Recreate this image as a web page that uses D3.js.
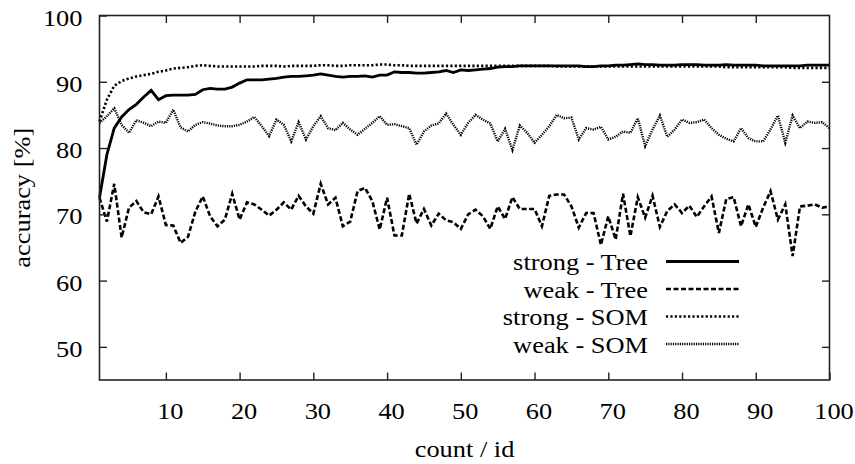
<!DOCTYPE html>
<html>
<head>
<meta charset="utf-8">
<script src="https://cdn.jsdelivr.net/npm/d3@7"></script>
<style>
  body { margin: 0; background: #fff; }
  svg text { font-family: "Liberation Serif", "Times New Roman", serif; fill: #000; }
</style>
</head>
<body>
<svg id="chart"></svg>
<script>
/* values, one per count/id (1..100) */
const ids = d3.range(1, 101);

const strongTree = [
  72.5, 79.0, 83.0, 84.7, 85.8, 86.6, 87.7, 88.7, 87.3, 87.9,
  88.0, 88.0, 88.0, 88.1, 88.8, 89.0, 88.9, 88.9, 89.2, 89.8,
  90.3, 90.3, 90.3, 90.4, 90.5, 90.7, 90.8, 90.8, 90.9, 91.0,
  91.2, 91.0, 90.8, 90.7, 90.8, 90.8, 90.9, 90.7, 91.0, 91.0,
  91.5, 91.4, 91.4, 91.3, 91.3, 91.4, 91.5, 91.7, 91.4, 91.8,
  91.7, 91.8, 91.9, 92.0, 92.2, 92.3, 92.3, 92.4, 92.4, 92.4,
  92.4, 92.4, 92.4, 92.4, 92.4, 92.4, 92.3, 92.3, 92.4, 92.4,
  92.5, 92.5, 92.6, 92.7, 92.6, 92.6, 92.5, 92.5, 92.5, 92.6,
  92.6, 92.6, 92.5, 92.5, 92.5, 92.6, 92.5, 92.5, 92.5, 92.5,
  92.4, 92.4, 92.4, 92.4, 92.4, 92.4, 92.5, 92.5, 92.5, 92.5
];

const weakTree = [
  72.5, 68.9, 74.6, 66.5, 71.0, 72.0, 70.3, 70.0, 72.7, 68.4,
  68.3, 65.7, 66.6, 70.4, 72.7, 69.7, 68.2, 69.2, 73.1, 69.2,
  71.8, 71.5, 70.7, 69.8, 70.7, 71.8, 70.7, 72.8, 71.2, 70.1,
  74.6, 71.5, 72.5, 68.2, 68.9, 73.5, 74.0, 72.0, 67.7, 72.5,
  66.8, 66.8, 73.1, 68.6, 70.8, 68.3, 70.1, 69.1, 68.8, 67.8,
  70.0, 70.7, 69.7, 67.8, 71.2, 69.3, 72.6, 70.8, 70.8, 70.8,
  68.2, 72.8, 73.0, 73.0, 71.2, 68.0, 70.2, 70.2, 65.4, 69.7,
  66.2, 73.1, 66.7, 72.6, 69.5, 72.8, 68.1, 70.5, 71.5, 70.2,
  71.3, 69.6, 71.2, 72.7, 67.2, 72.3, 72.6, 68.2, 71.5, 68.1,
  71.0, 73.5, 69.2, 71.5, 63.7, 71.2, 71.3, 71.5, 71.0, 71.2
];

const strongSOM = [
  84.0, 87.3, 89.4, 90.1, 90.5, 90.8, 91.0, 91.2, 91.5, 91.7,
  92.0, 92.1, 92.2, 92.4, 92.5, 92.4, 92.3, 92.3, 92.3, 92.3,
  92.3, 92.3, 92.4, 92.4, 92.4, 92.3, 92.4, 92.4, 92.4, 92.4,
  92.5, 92.5, 92.4, 92.4, 92.5, 92.5, 92.5, 92.5, 92.6, 92.6,
  92.5, 92.5, 92.4, 92.4, 92.4, 92.4, 92.4, 92.4, 92.4, 92.4,
  92.4, 92.4, 92.4, 92.4, 92.4, 92.4, 92.4, 92.4, 92.4, 92.4,
  92.4, 92.4, 92.3, 92.3, 92.3, 92.3, 92.3, 92.3, 92.3, 92.3,
  92.3, 92.3, 92.3, 92.3, 92.3, 92.3, 92.3, 92.3, 92.3, 92.3,
  92.3, 92.3, 92.3, 92.3, 92.3, 92.2, 92.2, 92.2, 92.2, 92.2,
  92.2, 92.2, 92.2, 92.2, 92.1, 92.1, 92.1, 92.1, 92.1, 92.1
];

const weakSOM = [
  83.8, 84.8, 86.0, 83.5, 82.3, 84.2, 83.8, 83.3, 84.0, 83.8,
  85.8, 83.1, 82.5, 83.5, 83.9, 83.7, 83.4, 83.3, 83.3, 83.5,
  84.0, 84.7, 83.3, 81.8, 84.3, 83.5, 81.0, 83.9, 81.3, 83.3,
  84.8, 83.0, 82.7, 83.8, 82.8, 82.0, 82.9, 83.8, 84.8, 83.5,
  83.6, 83.3, 83.0, 80.5, 82.5, 83.4, 83.7, 85.2, 83.5, 82.0,
  83.8, 85.0, 84.3, 83.7, 81.0, 82.9, 79.7, 83.4, 82.3, 80.8,
  82.0, 83.3, 85.0, 84.5, 84.6, 81.3, 83.0, 82.8, 83.2, 81.3,
  81.7, 82.5, 82.3, 84.5, 80.3, 82.8, 84.9, 81.7, 82.8, 84.3,
  83.8, 83.9, 84.3, 83.0, 82.0, 81.4, 81.0, 83.0, 81.5, 81.0,
  81.0, 82.8, 84.9, 80.8, 84.9, 83.0, 84.0, 83.8, 83.9, 83.0
];

const seriesNames = ["strong - Tree", "weak - Tree", "strong - SOM", "weak - SOM"];
const xTicks = [10, 20, 30, 40, 50, 60, 70, 80, 90, 100];
const yTicks = [50, 60, 70, 80, 90, 100];

/* canvas */
const width = 855, height = 464;
const margin = {left: 99.5, right: 25.5, top: 15.5, bottom: 84};
const fontSize = 24;
const stretch = 1.1; /* the reference font is rendered a bit wider than plain Times */

const svg = d3.select("#chart")
    .attr("width", width)
    .attr("height", height);

const x = d3.scaleLinear().domain([1, 100]).range([margin.left, width - margin.right]);
const y = d3.scaleLinear().domain([45, 100]).range([height - margin.bottom, margin.top]);

/* line styles like the gnuplot terminal */
const styles = [
    {data: strongTree, width: 2.8, dash: null},
    {data: weakTree, width: 2.6, dash: "5,2.5"},
    {data: strongSOM, width: 2.6, dash: "2.2,2.2"},
    {data: weakSOM, width: 2.4, dash: "1.2,1.1"}
];

const line = d3.line()
    .x((d, i) => x(ids[i]))
    .y(d => y(d));

const plot = svg.append("g").attr("id", "lines");
styles.slice().reverse().forEach(s => {
    plot.append("path")
        .datum(s.data)
        .attr("d", line)
        .attr("fill", "none")
        .attr("stroke", "#000")
        .attr("stroke-width", s.width)
        .attr("stroke-linejoin", "miter")
        .attr("stroke-dasharray", s.dash);
});

/* axes: ticks point inwards and are mirrored on the top and right side */
const tickLen = 7.5;
const bottomAxis = svg.append("g")
    .attr("transform", "translate(0," + y.range()[0] + ")")
    .call(d3.axisBottom(x).tickValues(xTicks).tickSize(-tickLen).tickPadding(0));
const topAxis = svg.append("g")
    .attr("transform", "translate(0," + y.range()[1] + ")")
    .call(d3.axisTop(x).tickValues(xTicks.slice(0, -1)).tickSize(-tickLen).tickFormat(""));
const leftAxis = svg.append("g")
    .attr("transform", "translate(" + x.range()[0] + ",0)")
    .call(d3.axisLeft(y).tickValues(yTicks).tickSize(-tickLen).tickPadding(0));
const rightAxis = svg.append("g")
    .attr("transform", "translate(" + x.range()[1] + ",0)")
    .call(d3.axisRight(y).tickValues(yTicks.slice(0, -1)).tickSize(-tickLen).tickFormat(""));

[bottomAxis, topAxis, leftAxis, rightAxis].forEach(a => {
    a.select(".domain").remove();
    a.selectAll("line").attr("stroke", "#222").attr("stroke-width", 1.4);
});

bottomAxis.selectAll("text")
    .attr("font-size", fontSize)
    .attr("y", 0)
    .attr("dy", 0)
    .attr("x", 4 / stretch)
    .attr("transform", "translate(0,38.5) scale(" + stretch + ",1)");

leftAxis.selectAll("text")
    .attr("font-size", fontSize)
    .attr("x", -17 / stretch)
    .attr("dy", "0.34em")
    .attr("transform", "translate(0,1.5) scale(" + stretch + ",1)");

/* border */
svg.append("rect")
    .attr("x", x.range()[0])
    .attr("y", y.range()[1])
    .attr("width", x.range()[1] - x.range()[0])
    .attr("height", y.range()[0] - y.range()[1])
    .attr("fill", "none")
    .attr("stroke", "#222")
    .attr("stroke-width", 1.6);

/* axis titles */
svg.append("text")
    .attr("text-anchor", "middle")
    .attr("font-size", fontSize)
    .attr("transform", "translate(" + (x.range()[0] + x.range()[1]) / 2 + ",457) scale(" + stretch + ",1)")
    .text("count / id");

svg.append("text")
    .attr("text-anchor", "middle")
    .attr("font-size", fontSize)
    .attr("transform", "translate(30," + (y.range()[0] + y.range()[1]) / 2 + ") rotate(-90) scale(" + stretch + ",1)")
    .text("accuracy [%]");

/* legend */
const legend = svg.append("g").attr("id", "legend");
const legendTop = 261.5, legendStep = 27.5;
styles.forEach((s, i) => {
    const ly = legendTop + i * legendStep;
    legend.append("text")
        .attr("text-anchor", "end")
        .attr("font-size", fontSize)
        .attr("transform", "translate(648," + (ly + 8.5) + ") scale(" + stretch + ",1)")
        .text(seriesNames[i]);
    legend.append("line")
        .attr("x1", 666).attr("x2", 739)
        .attr("y1", ly).attr("y2", ly)
        .attr("stroke", "#000")
        .attr("stroke-width", s.width)
        .attr("stroke-dasharray", s.dash);
});
</script>
</body>
</html>
